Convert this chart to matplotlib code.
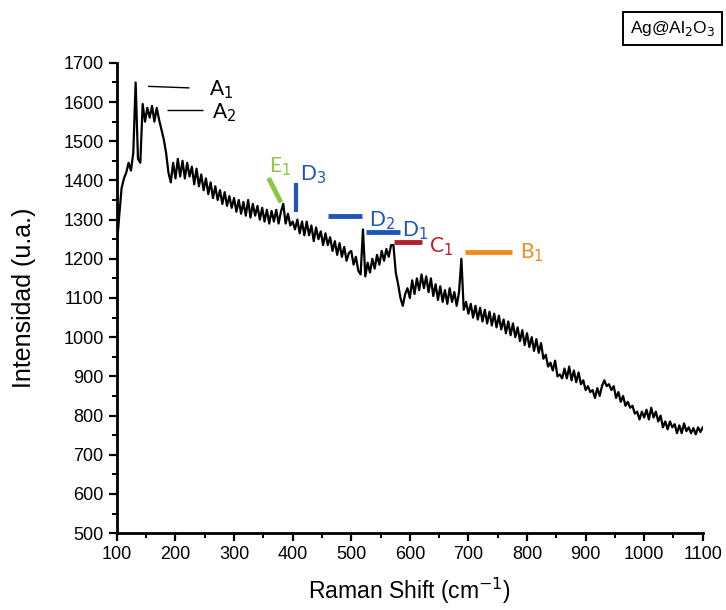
import numpy as np
import matplotlib
matplotlib.use("Agg")
import matplotlib.pyplot as plt
from matplotlib.ticker import MultipleLocator

plt.rcParams['font.family'] = ['Liberation Sans', 'DejaVu Sans']

# Raman shift sampling (cm-1) and intensity values
shift_start, shift_stop, shift_step = 100, 1100, 4
intensity = [
    1235, 1310, 1380, 1405, 1420, 1445, 1425, 1470, 1650, 1455,
    1445, 1595, 1550, 1585, 1560, 1590, 1550, 1585, 1555, 1530,
    1505, 1470, 1420, 1395, 1445, 1405, 1455, 1410, 1450, 1405,
    1445, 1410, 1435, 1390, 1430, 1385, 1415, 1375, 1405, 1365,
    1395, 1355, 1385, 1350, 1375, 1340, 1370, 1335, 1360, 1330,
    1355, 1320, 1350, 1315, 1345, 1310, 1350, 1305, 1340, 1310,
    1335, 1300, 1330, 1295, 1325, 1290, 1322, 1295, 1325, 1290,
    1320, 1340, 1290, 1315, 1285, 1295, 1275, 1300, 1265, 1295,
    1260, 1295, 1260, 1285, 1245, 1280, 1250, 1270, 1235, 1265,
    1235, 1255, 1220, 1245, 1210, 1240, 1205, 1230, 1195, 1215,
    1220, 1185, 1205, 1170, 1160, 1275, 1155, 1190, 1165, 1200,
    1175, 1210, 1185, 1220, 1195, 1225, 1205, 1235, 1235, 1165,
    1135, 1100, 1080, 1110, 1125, 1100, 1145, 1110, 1150, 1120,
    1160, 1125, 1155, 1115, 1150, 1105, 1135, 1095, 1130, 1090,
    1120, 1085, 1125, 1090, 1115, 1080, 1115, 1200, 1070, 1090,
    1060, 1085, 1050, 1080, 1045, 1075, 1040, 1070, 1035, 1065,
    1030, 1060, 1025, 1055, 1020, 1045, 1010, 1040, 1005, 1035,
    1000, 1025, 990, 1018, 980, 1010, 975, 1000, 965, 995,
    960, 985, 945, 955, 925, 935, 915, 940, 900, 905,
    895, 920, 895, 925, 890, 915, 885, 910, 880, 890,
    865, 875, 860, 865, 845, 870, 850, 875, 890, 875,
    880, 865, 875, 845, 860, 835, 850, 825, 835, 820,
    825, 805, 810, 790, 810, 795, 815, 790, 820, 795,
    810, 785, 800, 770, 785, 765, 785, 770, 778, 755,
    775, 755, 780, 760, 770, 755, 768, 752, 770, 758,
    770,
]
shift = np.arange(shift_start, shift_stop + 1, shift_step)

# Band markers: label, subscript, segment ends, colour, label position
band_labels = ['A', 'A', 'E', 'D', 'D', 'D', 'C', 'B']
band_subs = ['1', '2', '1', '3', '2', '1', '1', '1']
band_x0 = [153, 185, 359, 405, 460, 525, 573, 694]
band_x1 = [224, 247, 380, 405, 518, 583, 620, 774]
band_y0 = [1640, 1579, 1406, 1393, 1309, 1268, 1242, 1217]
band_y1 = [1636, 1579, 1344, 1319, 1309, 1268, 1242, 1217]
band_tx = [257, 262, 360, 412, 530, 587, 632, 788]
band_ty = [1632, 1572, 1436, 1414, 1298, 1272, 1232, 1216]
band_colors = ['black', 'black', '#8dc63f', '#1f56b8', '#1f56b8', '#1f56b8', '#b2202a', '#f28a22']
band_lw = [1.0, 1.0, 3.5, 3.0, 3.5, 3.5, 3.5, 3.5]

fig = plt.figure(figsize=(7.26, 6.10), dpi=100)
ax = fig.add_axes([0.161, 0.126, 0.807, 0.771])

ax.plot(shift, intensity, color='black', lw=1.6)

for lab, sub, x0, x1, y0, y1, c, tx, ty, lw in zip(band_labels, band_subs, band_x0, band_x1,
                                                  band_y0, band_y1, band_colors, band_tx,
                                                  band_ty, band_lw):
    ax.plot([x0, x1], [y0, y1], color=c, lw=lw, solid_capstyle='butt')
    ax.text(tx, ty, lab + '$_{' + sub + '}$', color=c, fontsize=15,
            family=['Lato', 'DejaVu Sans'], ha='left', va='center')

ax.set_xlim(100, 1100)
ax.set_ylim(500, 1700)
ax.xaxis.set_major_locator(MultipleLocator(100))
ax.xaxis.set_minor_locator(MultipleLocator(50))
ax.yaxis.set_major_locator(MultipleLocator(100))
ax.yaxis.set_minor_locator(MultipleLocator(50))
for s in ['top', 'right']:
    ax.spines[s].set_visible(False)
for s in ['left', 'bottom']:
    ax.spines[s].set_linewidth(2.0)
ax.tick_params(which='major', length=6, width=1.6, labelsize=13)
ax.tick_params(which='minor', length=3.5, width=1.4)

ax.set_xlabel('Raman Shift (cm$^{-1}$)', fontsize=16.5, labelpad=9)
ax.set_ylabel('Intensidad (u.a.)', fontsize=18, labelpad=20)

fig.text(0.985, 0.953, 'Ag@Al$_2$O$_3$', fontsize=12.5, ha='right', va='center',
         bbox=dict(boxstyle='square,pad=0.4', fc='white', ec='black', lw=1.4))

fig.savefig('out.png', dpi=100)
